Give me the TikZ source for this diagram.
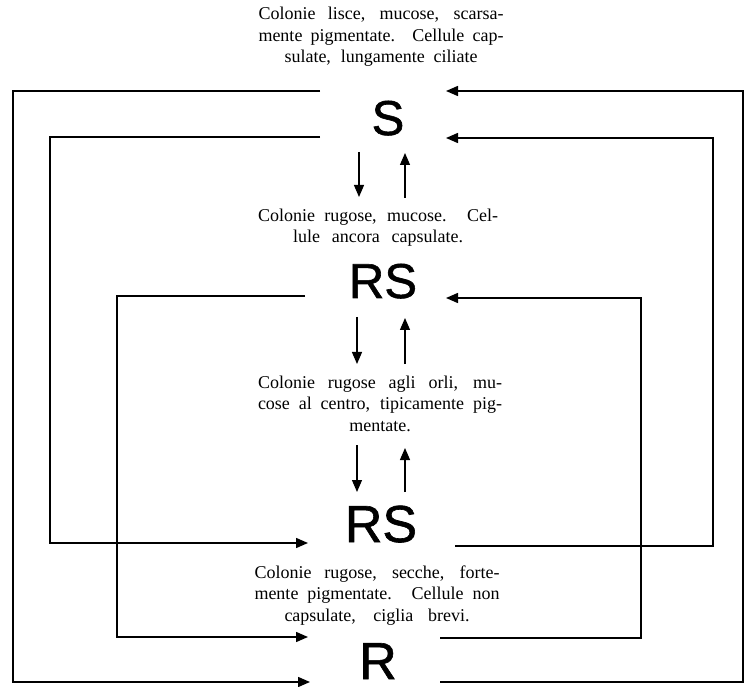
\documentclass[tikz,border=0pt]{standalone}
\usepackage{fontspec}
\setmainfont{Liberation Serif}
\newfontfamily\bigsans[FakeBold=1.2]{Liberation Sans}
\usetikzlibrary{arrows.meta}
\begin{document}
\begin{tikzpicture}[x=1pt,y=-1pt,
  letter/.style={inner sep=0pt, anchor=base, font=\bigsans\fontsize{49}{49}\selectfont},
  bigletter/.style={letter, font=\bigsans\fontsize{52}{52}\selectfont},
  desc/.style={inner sep=0pt, align=center, anchor=base, font=\fontsize{18}{21.5}\selectfont},
  link/.style={line width=1.5pt, -{Triangle[length=12pt,width=10pt]}},
  vlink/.style={line width=1.3pt, -{Triangle[length=12pt,width=10pt]}}]
\useasboundingbox (0,0) rectangle (745,687);
% texts (anchor base = baseline of last line)
\node[desc] (T1) at (381,63) {\makebox[245pt][s]{Colonie lisce, mucose, scarsa-}\\\makebox[245pt][s]{mente pigmentate. Cellule cap-}\\\makebox[193pt][s]{sulate, lungamente ciliate}};
\node[desc] (T2) at (378,243) {\makebox[240pt][s]{Colonie rugose, mucose. Cel-}\\\makebox[170pt][s]{lule ancora capsulate.}};
\node[desc] (T3) at (380,431) {\makebox[244pt][s]{Colonie rugose agli orli, mu-}\\\makebox[244pt][s]{cose al centro, tipicamente pig-}\\mentate.};
\node[desc] (T4) at (377,621) {\makebox[245pt][s]{Colonie rugose, secche, forte-}\\\makebox[245pt][s]{mente pigmentate. Cellule non}\\\makebox[185pt][s]{capsulate, ciglia brevi.}};
% letters
\node[letter] (S) at (388,135) {S};
\node[letter] (RS1) at (383,298) {RS};
\node[bigletter] (RS2) at (381,542) {RS};
\node[bigletter] (R) at (378,679) {R};
% vertical arrow end points
\coordinate (d1a) at (359,152); \coordinate (d1b) at (359,197);
\coordinate (u1a) at (405,198); \coordinate (u1b) at (405,153);
\coordinate (d2a) at (357,317); \coordinate (d2b) at (357,364);
\coordinate (u2a) at (405,364); \coordinate (u2b) at (405,318);
\coordinate (d3a) at (357,445); \coordinate (d3b) at (357,492);
\coordinate (u3a) at (405,492); \coordinate (u3b) at (405,448);
\draw[vlink] (d1a) -- (d1b);
\draw[vlink] (u1a) -- (u1b);
\draw[vlink] (d2a) -- (d2b);
\draw[vlink] (u2a) -- (u2b);
\draw[vlink] (d3a) -- (d3b);
\draw[vlink] (u3a) -- (u3b);
% loop connectors
\coordinate (sA) at (320,91);  \coordinate (rA) at (310,682);
\coordinate (rB) at (440,682); \coordinate (sB) at (446,91);
\coordinate (sC) at (320,137); \coordinate (rsC) at (308,543);
\coordinate (rsD) at (455,546); \coordinate (sD) at (446,138);
\coordinate (rsE) at (305,296); \coordinate (rE) at (308,637);
\coordinate (rF) at (440,638); \coordinate (rsF) at (446,298);
\draw[link] (sA) -- (13,91) -- (13,682) -- (rA);
\draw[link] (rB) -- (743,682) -- (743,91) -- (sB);
\draw[link] (sC) -- (50,137) -- (50,543) -- (rsC);
\draw[link] (rsD) -- (713,546) -- (713,138) -- (sD);
\draw[link] (rsE) -- (117,296) -- (117,637) -- (rE);
\draw[link] (rF) -- (641,638) -- (641,298) -- (rsF);
\end{tikzpicture}
\end{document}
